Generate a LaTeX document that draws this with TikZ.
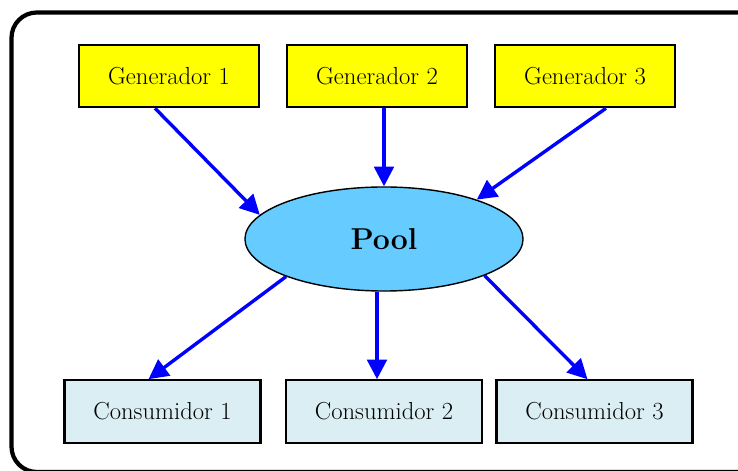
\documentclass[tikz,border=0pt]{standalone}
\usepackage{tikz}
\usetikzlibrary{calc}
\usetikzlibrary{arrows.meta,shapes}

\definecolor{genYellow}{RGB}{255,255,0}
\definecolor{poolBlue}{RGB}{102,204,255}
\definecolor{consBlue}{RGB}{218,238,243}

\begin{document}
\begin{tikzpicture}[x=0.025cm,y=-0.025cm,
	box/.style={draw, line width=1.5pt, minimum height=1.56cm, inner sep=0pt,
		font=\fontsize{17.5}{21}\selectfont},
	gen/.style={box, fill=genYellow, minimum width=4.5cm},
	cons/.style={box, fill=consBlue, minimum width=4.9cm},
	flow/.style={blue, line width=2.4pt, -{Triangle[length=14pt,width=14pt]}}]

\newcommand{\drawFlow}[2]{% from, to
	\draw[flow] #1 -- #2;
}

\useasboundingbox (0,0) rectangle (738,471);
\clip (0,0) rectangle (738,471);

% outer frame, runs off the right and bottom edge
\draw[line width=3pt, rounded corners=18pt] (11.5,12.5) rectangle (800,472);

\foreach \i/\x in {1/169,2/377,3/585}
{
	\node[gen] (g\i) at (\x,76) {Generador \i};
}
\foreach \i/\x in {1/162.5,2/384,3/594.5}
{
	\node[cons] (c\i) at (\x,411.5) {Consumidor \i};
}

\node[ellipse, draw, line width=1pt, fill=poolBlue, inner sep=0pt,
	minimum width=6.95cm, minimum height=2.6cm,
	font=\fontsize{21.5}{25}\selectfont\bfseries] (pool) at (384,239) {Pool};

% into the pool
\drawFlow{($(g1.south)+(-14,0)$)}{(pool.169)}
\drawFlow{($(g2.south)+(7,0)$)}{(pool.north)}
\drawFlow{($(g3.south)+(21,0)$)}{(pool.23)}
% out of the pool
\drawFlow{(pool.201)}{($(c1.north)+(-14,0)$)}
\drawFlow{($(pool.south)+(-7,0)$)}{($(c2.north)+(-7,0)$)}
\drawFlow{(pool.340)}{($(c3.north)+(-7,0)$)}

\end{tikzpicture}
\end{document}
